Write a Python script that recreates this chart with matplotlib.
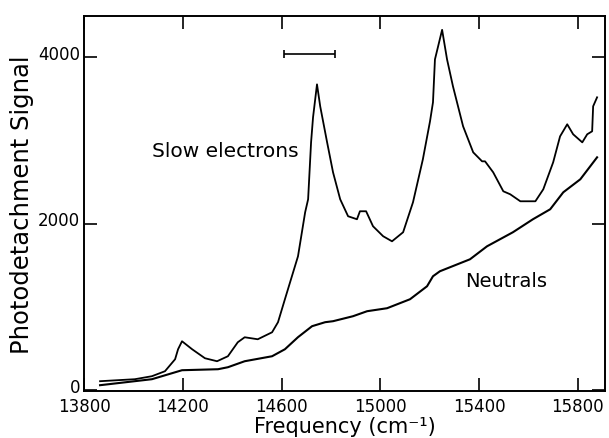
import matplotlib
matplotlib.use("Agg")
import matplotlib.pyplot as plt
import matplotlib.transforms as mtransforms

# slow electrons signal
slow_x = [13864, 14005, 14074, 14127, 14168, 14180, 14196, 14237, 14289, 14338,
          14382, 14422, 14450, 14503, 14561, 14585, 14613, 14666, 14695, 14707,
          14719, 14727, 14743, 14756, 14784, 14808, 14837, 14869, 14905, 14917,
          14942, 14970, 15011, 15047, 15092, 15132, 15172, 15201, 15213, 15221,
          15250, 15270, 15294, 15335, 15376, 15412, 15424, 15457, 15498, 15526,
          15567, 15628, 15660, 15700, 15728, 15757, 15781, 15818, 15838, 15858,
          15862, 15878]
slow_y = [108, 132, 168, 228, 372, 492, 588, 492, 384, 348,
          408, 576, 636, 612, 696, 817, 1093, 1609, 2138, 2294,
          2978, 3279, 3675, 3411, 2978, 2618, 2294, 2090, 2054, 2150,
          2150, 1970, 1850, 1789, 1898, 2258, 2774, 3231, 3459, 3975,
          4330, 3975, 3651, 3171, 2858, 2750, 2750, 2618, 2390, 2354,
          2270, 2270, 2414, 2738, 3050, 3195, 3075, 2978, 3075, 3111,
          3411, 3519]

# neutrals signal
neut_x = [13864, 14074, 14196, 14342, 14382, 14450, 14561, 14613, 14666, 14723,
          14776, 14808, 14889, 14946, 15027, 15120, 15189, 15213, 15241, 15363,
          15432, 15537, 15618, 15688, 15741, 15810, 15878]
neut_y = [60, 132, 240, 252, 276, 348, 408, 492, 637, 769,
          817, 829, 889, 949, 985, 1093, 1249, 1369, 1429, 1573,
          1729, 1898, 2054, 2174, 2378, 2534, 2798]

# resolution bar
bar_x = [14713]
bar_y = [4040]
bar_half = [102]

xticks = [13800, 14200, 14600, 15000, 15400, 15800]
yticks = [0, 2000, 4000]

plt.rcParams['font.family'] = ['DejaVu Sans']

fig = plt.figure(figsize=(6.09, 4.39), dpi=100)
ax = fig.add_axes([0.1384, 0.107, 0.855, 0.855])

ax.plot(slow_x, slow_y, color='black', lw=1.3)
ax.plot(neut_x, neut_y, color='black', lw=1.5)
ax.errorbar(bar_x, bar_y, xerr=bar_half, fmt='none', ecolor='black',
            elinewidth=1.2, capsize=3, capthick=1.2)

ax.text(14075, 2810, 'Slow electrons', fontsize=14.5, va='baseline', ha='left')
ax.text(15343, 1249, 'Neutrals', fontsize=14, va='baseline', ha='left')

ax.set_xlim(13800, 15910)
ax.set_ylim(-10, 4500)
ax.set_xticks(xticks)
ax.set_yticks(yticks)
ax.set_xticklabels([str(v) for v in xticks], fontsize=12)
ax.set_yticklabels([str(v) for v in yticks], fontsize=12)
ax.tick_params(direction='in', length=9.5, width=1.2, top=True, right=True, pad=4)
ax.tick_params(axis='y', pad=3)

# y labels sit a little above their ticks in the original
shift = mtransforms.ScaledTranslation(0, 4 / 72, fig.dpi_scale_trans)
for lab in ax.get_yticklabels():
    lab.set_transform(lab.get_transform() + shift)

for s in ax.spines.values():
    s.set_linewidth(1.4)

ax.set_xlabel('Frequency (cm\u207b\u00b9)', fontsize=15, labelpad=1)
ax.set_ylabel('Photodetachment Signal', fontsize=17.5, labelpad=3)

fig.savefig('out.png', dpi=100)
